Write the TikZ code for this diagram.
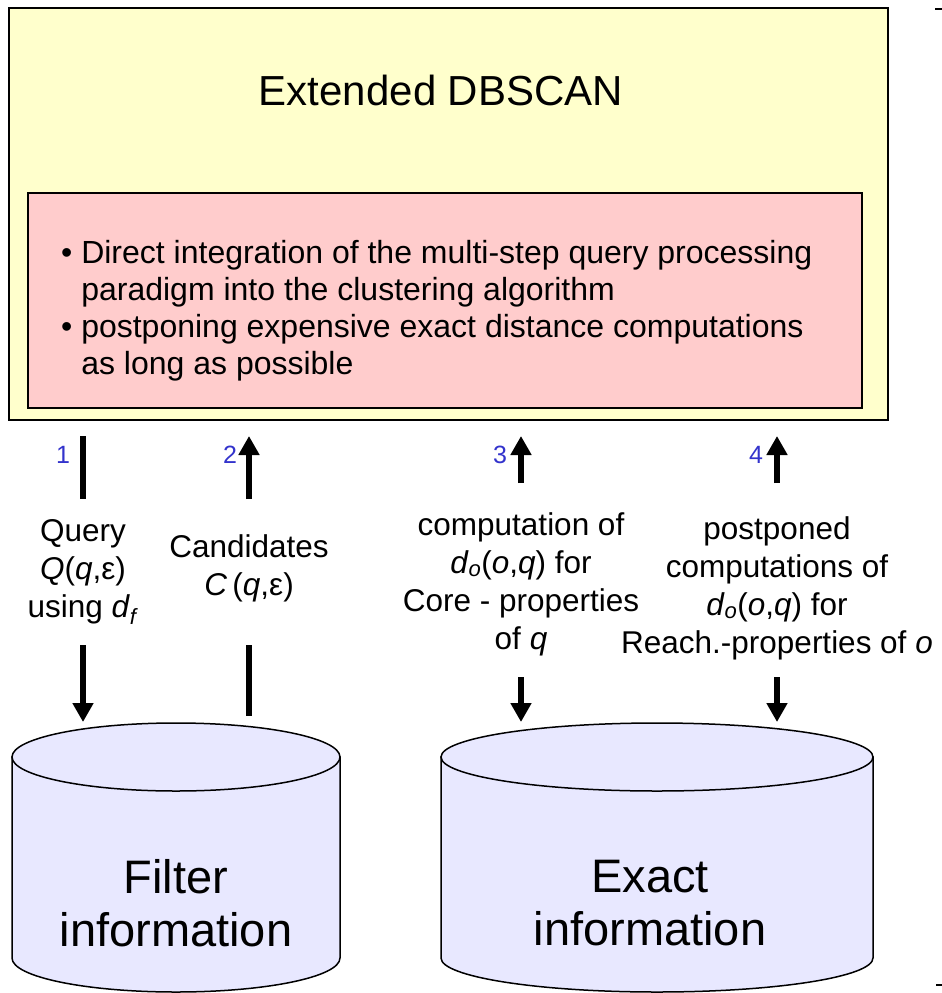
\documentclass[tikz,border=0pt]{standalone}
\usepackage{fontspec}
\setmainfont{Liberation Sans}
\usetikzlibrary{arrows.meta,positioning,calc}
\definecolor{slideyellow}{RGB}{255,255,204}
\definecolor{sliderose}{RGB}{255,204,204}
\definecolor{dblavender}{RGB}{232,232,255}
\definecolor{stepblue}{RGB}{51,51,204}
\tikzset{
  flowline/.style={line width=6pt, draw=black},
  flowarrow/.style={flowline, -{Triangle[length=19pt,width=20pt]}},
  mainbox/.style={draw=black, line width=2pt, fill=slideyellow, minimum width=879pt, minimum height=412pt, inner sep=0pt},
  ideabox/.style={draw=black, line width=1.5pt, fill=sliderose, minimum width=834pt, minimum height=215pt, inner sep=0pt},
  ideatext/.style={align=left, font=\fontsize{32}{37}\selectfont, inner sep=0pt},
  steplabel/.style={align=center, font=\fontsize{31.5}{38}\selectfont, inner sep=0pt},
  stepnum/.style={text=stepblue, font=\fontsize{25}{25}\selectfont, inner sep=0pt},
  dbbody/.style={draw=black, line width=1.5pt, fill=dblavender},
  dbtext/.style={align=center, font=\fontsize{47}{53}\selectfont, inner sep=0pt}
}

\begin{document}
\begin{tikzpicture}[x=1pt, y=-1pt]
  \useasboundingbox (0,0) rectangle (942,993);

  \node[mainbox] (dbscan) at (448.5,214) {};
  \node[font=\fontsize{42}{48}\selectfont] (title) at (441,90) {Extended DBSCAN};
  \node[ideabox] (ideabox) at (445,300.5) {};
  \node[ideatext, anchor=west] (ideas) at (61,311) {\textbullet\ Direct integration of the multi-step query processing\\
    \phantom{\textbullet\ }paradigm into the clustering algorithm\\
    \textbullet\ postponing expensive exact distance computations\\
    \phantom{\textbullet\ }as long as possible};

  % databases
  \path[dbbody] (12,757) -- (12,958) arc[start angle=180, end angle=0, x radius=164, y radius=34] -- (340,757) -- cycle;
  \path[dbbody] (176,757) ellipse[x radius=164, y radius=34];
  \node[dbtext] (filterdb) at (176,903) {Filter\\information};

  \path[dbbody] (441,757) -- (441,958) arc[start angle=180, end angle=0, x radius=216, y radius=34] -- (873,757) -- cycle;
  \path[dbbody] (657,757) ellipse[x radius=216, y radius=34];
  \node[dbtext] (exactdb) at (650,903) {Exact\\information};

  % step labels
  \node[steplabel] (query) at (83,572) {Query\\\textit{Q}(\textit{q},ε)\\using \textit{d}\textsubscript{\textit{f}}};
  \node[steplabel] (cands) at (249,568) {Candidates\\\textit{C}\,(\textit{q},ε)};
  \node[steplabel] (corecomp) at (521,584) {computation of\\\textit{d}\textsubscript{\textit{o}}(\textit{o},\textit{q}) for\\Core - properties\\of \textit{q}};
  \node[steplabel] (reachcomp) at (777,588) {postponed\\computations of\\\textit{d}\textsubscript{\textit{o}}(\textit{o},\textit{q}) for\\Reach.-properties of \textit{o}};

  \node[stepnum] (num1) at (63,455) {1};
  \node[stepnum] (num2) at (230,455) {2};
  \node[stepnum] (num3) at (500,455) {3};
  \node[stepnum] (num4) at (756,455) {4};

  % arrow ends
  \coordinate (qtop) at (83,436);
  \coordinate (qmid) at (83,499);
  \coordinate (qlow) at (83,645);
  \coordinate (qend) at (83,722);
  \coordinate (ctop) at (249,436);
  \coordinate (cmid) at (249,499);
  \coordinate (clow) at (249,645);
  \coordinate (cend) at (249,716);
  \coordinate (ktop) at (521,436);
  \coordinate (kmid) at (521,483);
  \coordinate (klow) at (521,677);
  \coordinate (kend) at (521,722);
  \coordinate (rtop) at (777,436);
  \coordinate (rmid) at (777,483);
  \coordinate (rlow) at (777,677);
  \coordinate (rend) at (777,722);

  \draw[flowline] (qtop) -- (qmid);
  \draw[flowarrow] (qlow) -- (qend);
  \draw[flowarrow] (cmid) -- (ctop);
  \draw[flowline] (clow) -- (cend);
  \draw[flowarrow] (kmid) -- (ktop);
  \draw[flowarrow] (klow) -- (kend);
  \draw[flowarrow] (rmid) -- (rtop);
  \draw[flowarrow] (rlow) -- (rend);

  % slide edge marks
  \draw[line width=2pt] (935,9) -- (942,9);
  \draw[line width=2pt] (936,985) -- (942,985);
\end{tikzpicture}
\end{document}
